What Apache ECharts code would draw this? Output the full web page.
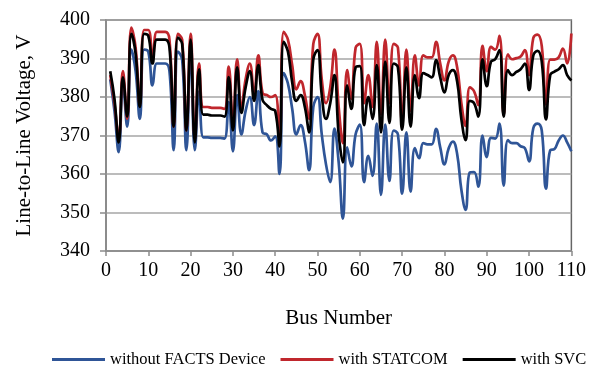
<!DOCTYPE html>
<html>
<head>
<meta charset="utf-8">
<script src="https://cdn.jsdelivr.net/npm/echarts@6/dist/echarts.min.js"></script>
<style>
html,body{margin:0;padding:0;background:#fff;}
#chart{width:589px;height:367px;}
</style>
</head>
<body>
<div id="chart"></div>
<script>
// Bus numbers 1..110
const busNumbers = [1,2,3,4,5,6,7,8,9,10,11,12,13,14,15,16,17,18,19,20,21,22,23,24,25,26,27,28,29,30,31,32,33,34,35,36,37,38,39,40,41,42,43,44,45,46,47,48,49,50,51,52,53,54,55,56,57,58,59,60,61,62,63,64,65,66,67,68,69,70,71,72,73,74,75,76,77,78,79,80,81,82,83,84,85,86,87,88,89,90,91,92,93,94,95,96,97,98,99,100,101,102,103,104,105,106,107,108,109,110];

const withoutFACTS = [384.6,376.4,365.7,383.5,372.3,392.3,386.7,374.3,392.3,391.8,383,388.7,388.7,388.7,386.7,366.2,391.8,389.7,366.2,391.8,366.2,381.5,369.5,369.5,369.4,369.4,369.4,369.2,378.7,365.9,380.5,370.3,376.4,380,372.7,381.5,370.8,370.3,368.7,369.8,360,386.2,383.5,377,370.3,372.7,368.6,361,377.4,380,370.3,362.5,357.9,371.8,363,348.4,366.9,362,370.3,372.8,357.9,364.7,359.5,373.1,354.6,372.8,358.2,371.3,370.3,354.9,370.8,355.4,366.7,364.1,368,367.7,367.7,371.7,366.9,362.5,366.7,368.4,365.2,355.9,350.7,360.4,360.5,356.7,370,364.4,369.4,369.2,373.1,357,368.8,368,368,367.2,366.7,363.3,371.9,373.1,371.3,356.2,366.2,366.5,368.7,370,368.2,365.9];

const withSTATCOM = [385.7,378.4,369.2,386.7,374.3,398,392.8,377.9,397.4,397.4,389.8,396.9,396.9,396.9,394.9,372.3,396.4,394.9,371.3,396.4,369.2,388.7,377.4,377.4,377.2,377.2,377.2,376.9,387.9,373.1,389.8,377.4,384.6,388.7,380.5,390.8,381,380.5,380,380.5,369.8,396.9,394.9,388.3,382,384.1,380.5,374.3,393.8,396.4,384.6,378.4,382.5,392.3,377.4,368,387,379.5,392.8,393.8,378.4,385.7,377.4,394.3,375.4,394.9,378.4,393.8,392.8,373.3,392.3,376.4,390.8,383,390.8,390.3,390.3,394.3,388.7,384.3,389.2,390.8,387.7,378.4,372.5,382.5,381.5,377.9,393.3,386.7,393,392.3,395.9,375.3,391.1,389.8,390.1,390.5,392.2,385.7,395.3,396.2,393.3,378.1,389.7,389.7,390.3,392.6,388.7,396.5];

const withSVC = [386.7,379.5,368.2,385.1,374.9,396.4,391.3,377.4,396.4,395.9,388.7,394.9,394.9,394.9,392.8,372.3,395.4,393.8,371.3,394.9,368.2,387.2,375.4,375.4,375.2,375.2,375.2,374.9,385.2,371.3,387.7,375.9,382.5,386.7,379,388.3,379.2,377.9,376.9,376.4,367.2,394.3,391.8,383.9,379,380.5,377.4,370.8,389.8,392.2,380.5,374.3,378.4,385.7,370.3,363,383,376.9,387.7,388,372.7,380,374.3,388.3,370.8,389.2,373.3,388.7,387.7,371.5,387.7,372.3,385.7,379.7,386.2,385.7,385.1,389.6,385.1,381.2,385.7,387,384,374.3,368.8,379,378.4,374.9,389.8,382.8,389.2,389.8,392.2,374.9,387,385.7,386.5,387.2,388.7,381.8,390.8,392,389.2,374.2,385.7,386.6,387.2,388.3,385.7,384.3];

const seriesNames = ['without FACTS Device', 'with STATCOM', 'with SVC'];
const seriesColors = ['#2F5597', '#C0272D', '#000000'];
const seriesValues = [withoutFACTS, withSTATCOM, withSVC];

const FONT = '"Liberation Serif", "Times New Roman", serif';

const chart = echarts.init(document.getElementById('chart'), null, {renderer: 'canvas'});
chart.setOption({
  animation: false,
  backgroundColor: '#fff',
  textStyle: {fontFamily: FONT, color: '#000'},
  grid: {left: 106, right: 16, top: 20, bottom: 116, show: true, borderColor: '#666', borderWidth: 1.5},
  legend: {
    left: 47, top: 346, width: 640,
    itemWidth: 53, itemHeight: 3, itemGap: 15, icon: 'rect',
    textStyle: {fontFamily: FONT, fontSize: 16.5, color: '#000'},
    data: seriesNames
  },
  xAxis: {
    type: 'value', min: 0, max: 110, interval: 10,
    name: 'Bus Number', nameLocation: 'middle', nameGap: 57,
    nameTextStyle: {fontFamily: FONT, fontSize: 21, color: '#000'},
    axisLine: {show: true, onZero: false, lineStyle: {color: '#8c8c8c', width: 1.5}},
    axisTick: {show: true, length: 5, lineStyle: {color: '#8c8c8c', width: 1.5}},
    axisLabel: {fontFamily: FONT, fontSize: 20, color: '#000', margin: 10},
    splitLine: {show: false}
  },
  yAxis: {
    type: 'value', min: 340, max: 400, interval: 10,
    name: 'Line-to-Line Voltage, V', nameLocation: 'middle', nameGap: 71,
    nameTextStyle: {fontFamily: FONT, fontSize: 21, color: '#000'},
    axisLine: {show: true, lineStyle: {color: '#8c8c8c', width: 1.5}},
    axisTick: {show: true, length: 6, lineStyle: {color: '#8c8c8c', width: 1.5}},
    axisLabel: {fontFamily: FONT, fontSize: 20, color: '#000', margin: 16},
    splitLine: {show: true, lineStyle: {color: '#a6a6a6', width: 1.5}}
  },
  series: seriesNames.map((name, i) => ({
    name: name,
    type: 'line',
    smooth: 0.45,
    symbol: 'none',
    color: seriesColors[i],
    lineStyle: {width: 2.7, color: seriesColors[i]},
    data: busNumbers.map((b, j) => [b, seriesValues[i][j]])
  }))
});
</script>
</body>
</html>
